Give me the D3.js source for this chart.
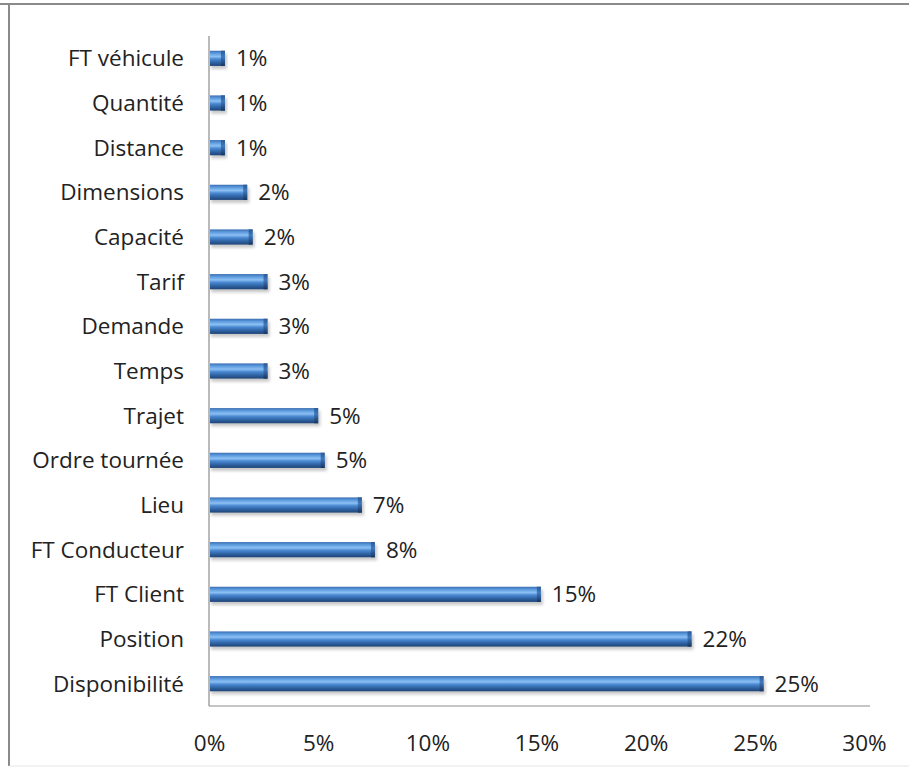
<!DOCTYPE html>
<html><head><meta charset="utf-8">
<script src="https://cdn.jsdelivr.net/npm/d3@7"></script>
<style>body{margin:0;background:#fff}svg{display:block}text{font-variant-ligatures:none}</style>
</head><body>
<script>
const categories = ["FT véhicule","Quantité","Distance","Dimensions","Capacité","Tarif","Demande","Temps","Trajet","Ordre tournée","Lieu","FT Conducteur","FT Client","Position","Disponibilité"];
const values = [0.73,0.73,0.73,1.75,2.0,2.68,2.68,2.68,5.0,5.3,7.0,7.6,15.2,22.1,25.4];
const valueLabels = ["1%","1%","1%","2%","2%","3%","3%","3%","5%","5%","7%","8%","15%","22%","25%"];
const tickValues = [0,5,10,15,20,25,30];

const W = 909, H = 772;
const svg = d3.select("body").append("svg").attr("width", W).attr("height", H);
const font = "'Open Sans', 'Noto Sans', sans-serif";
const fs = 22.5;

// frame
svg.append("line").attr("x1",0).attr("x2",W).attr("y1",4).attr("y2",4).attr("stroke","#8a8a8a").attr("stroke-width",2);
svg.append("line").attr("x1",9).attr("x2",9).attr("y1",4).attr("y2",766).attr("stroke","#8a8a8a").attr("stroke-width",2);
svg.append("line").attr("x1",9).attr("x2",W).attr("y1",766).attr("y2",766).attr("stroke","#e6e6e6").attr("stroke-width",1);

const x = d3.scaleLinear().domain([0,30]).range([209,864]);
const y = d3.scaleBand().domain(categories).range([36,706]).paddingInner(0.66).paddingOuter(0.33);

const defs = svg.append("defs");
const g = defs.append("linearGradient").attr("id","cyl").attr("x1",0).attr("x2",0).attr("y1",0).attr("y2",1);
[[0,"#3a6fb0"],[0.18,"#5d9be0"],[0.38,"#8cc0f2"],[0.55,"#4a88d2"],[0.8,"#2c5f9e"],[1,"#1f4478"]].forEach(([o,c])=>g.append("stop").attr("offset",o).attr("stop-color",c));
const cap = defs.append("linearGradient").attr("id","cap").attr("x1",0).attr("x2",0).attr("y1",0).attr("y2",1);
[[0,"#2d5a94"],[0.4,"#3f79bd"],[1,"#17355f"]].forEach(([o,c])=>cap.append("stop").attr("offset",o).attr("stop-color",c));
const sh = defs.append("filter").attr("id","sh").attr("x","-5%").attr("y","-50%").attr("width","110%").attr("height","200%");
sh.append("feGaussianBlur").attr("stdDeviation",1.5);

const bh = y.bandwidth();
const rows = svg.append("g").selectAll("g").data(categories).join("g");
rows.append("rect").attr("x",x(0)+2).attr("y",d=>y(d)+3).attr("width",(d,i)=>x(values[i])-x(0)).attr("height",bh)
  .attr("fill","#9a9a9a").attr("opacity",0.55).attr("filter","url(#sh)");
rows.append("rect").attr("x",x(0)+1).attr("y",d=>y(d)).attr("width",(d,i)=>x(values[i])-x(0)-1).attr("height",bh)
  .attr("fill","url(#cyl)");
rows.append("rect").attr("x",(d,i)=>x(values[i])-4).attr("y",d=>y(d)).attr("width",4).attr("height",bh)
  .attr("fill","url(#cap)");

svg.append("line").attr("x1",x(0)).attr("x2",x(0)).attr("y1",36).attr("y2",706).attr("stroke","#8c8c8c").attr("stroke-width",1.2);
svg.append("line").attr("x1",x(0)).attr("x2",870).attr("y1",706).attr("y2",706).attr("stroke","#8c8c8c").attr("stroke-width",1.2);

svg.append("g").selectAll("text").data(categories).join("text")
  .attr("x",184).attr("y",d=>y(d)+bh/2).attr("dy","0.35em").attr("text-anchor","end")
  .attr("font-family",font).attr("font-size",fs).attr("fill","#222").text(d=>d);

svg.append("g").selectAll("text").data(categories).join("text")
  .attr("x",(d,i)=>x(values[i])+11).attr("y",d=>y(d)+bh/2).attr("dy","0.35em")
  .attr("font-family",font).attr("font-size",fs).attr("fill","#222").text((d,i)=>valueLabels[i]);

const xAxis = d3.axisBottom(x).tickValues(tickValues).tickFormat(d=>d+"%").tickSize(0).tickPadding(0);
const ax = svg.append("g").attr("transform","translate(0,743)").call(xAxis);
ax.select(".domain").remove();
ax.selectAll("text").attr("dy","0.35em").attr("font-family",font).attr("font-size",fs).attr("fill","#222");
</script>
</body></html>
